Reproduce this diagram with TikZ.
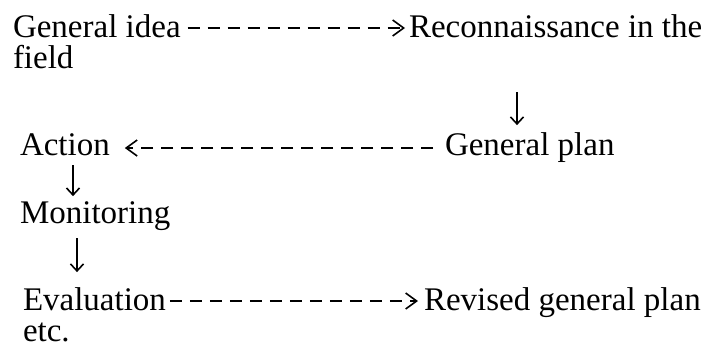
\documentclass[tikz,border=0pt]{standalone}
\usepackage{fontspec}
\setmainfont{Liberation Serif}
\usetikzlibrary{arrows.meta}
\begin{document}
\begin{tikzpicture}[x=1pt,y=-1pt,
  lbl/.style={anchor=base west,inner sep=0pt,outer sep=0pt,font=\fontsize{33}{40}\selectfont},
  dashconn/.style={line width=2.2pt,dash pattern=on 12pt off 8pt,-{Straight Barb[length=11pt,width=16pt,line width=1.6pt]}},
  downarrow/.style={line width=1.6pt,-{Straight Barb[length=7pt,width=13pt,line width=1.6pt]}}]
\useasboundingbox (0,0) rectangle (708,349);
\fill[white] (0,0) rectangle (708,349);
\node[lbl] (idea) at (13,37) {General idea};
\node[lbl] (field) at (13,68) {field};
\node[lbl] (recon) at (409,37) {Reconnaissance in the};
\node[lbl] (action) at (20,155) {Action};
\node[lbl] (plan) at (445,155) {General plan};
\node[lbl] (monit) at (20,223) {Monitoring};
\node[lbl] (eval) at (23,310) {Evaluation};
\node[lbl] (etc) at (23,341) {etc.};
\node[lbl] (rev) at (424,310) {Revised general plan};
\coordinate (x1) at (517,0);
\coordinate (x2) at (73,0);
\coordinate (x3) at (77,0);
% dashed connectors
\draw[dashconn] ([xshift=7pt,yshift=9pt]idea.base east) -- ([xshift=-4pt,yshift=9pt]recon.base west);
\draw[dashconn] ([xshift=-12pt,yshift=7pt]plan.base west) -- ([xshift=15pt,yshift=7pt]action.base east);
\draw[dashconn] ([xshift=4pt,yshift=9pt]eval.base east) -- ([xshift=-6pt,yshift=9pt]rev.base west);
% vertical arrows
\draw[downarrow,shorten <=55pt,shorten >=7pt] (recon.south -| x1) -- (plan.north -| x1);
\draw[downarrow,shorten <=10pt,shorten >=5pt] (action.south -| x2) -- (monit.north -| x2);
\draw[downarrow,shorten <=8pt,shorten >=15pt] (monit.south -| x3) -- (eval.north -| x3);
\end{tikzpicture}
\end{document}
